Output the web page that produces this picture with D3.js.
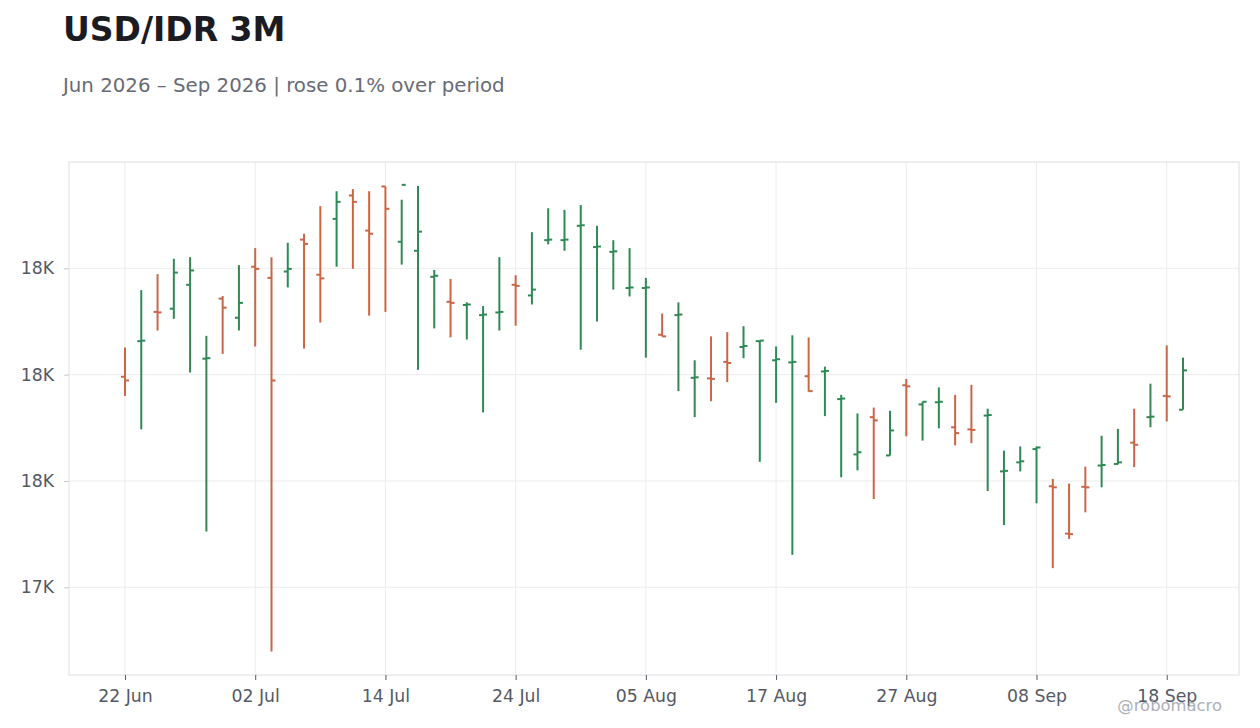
<!DOCTYPE html>
<html>
<head>
<meta charset="utf-8">
<script src="https://cdn.jsdelivr.net/npm/d3@7"></script>
<style>
  body { margin: 0; background: #fff; }
  svg { font-family: "DejaVu Sans", sans-serif; }
</style>
</head>
<body>
<div id="chart"></div>
<script>
// USD/IDR 3M daily OHLC, trading days only
const dates = [
  "2026-06-22","2026-06-23","2026-06-24","2026-06-25","2026-06-26",
  "2026-06-29","2026-06-30","2026-07-01","2026-07-02","2026-07-03",
  "2026-07-06","2026-07-07","2026-07-08","2026-07-09","2026-07-10",
  "2026-07-13","2026-07-14","2026-07-15","2026-07-16","2026-07-17",
  "2026-07-20","2026-07-21","2026-07-22","2026-07-23","2026-07-24",
  "2026-07-27","2026-07-28","2026-07-29","2026-07-30","2026-07-31",
  "2026-08-03","2026-08-04","2026-08-05","2026-08-06","2026-08-07",
  "2026-08-10","2026-08-11","2026-08-12","2026-08-13","2026-08-14",
  "2026-08-17","2026-08-18","2026-08-19","2026-08-20","2026-08-21",
  "2026-08-24","2026-08-25","2026-08-26","2026-08-27","2026-08-28",
  "2026-08-31","2026-09-01","2026-09-02","2026-09-03","2026-09-04",
  "2026-09-07","2026-09-08","2026-09-09","2026-09-10","2026-09-11",
  "2026-09-14","2026-09-15","2026-09-16","2026-09-17","2026-09-18",
  "2026-09-21"
];
const open = [
  17796,17863,17918,17924,17969,17830,17943,17907,18003,17982,
  17994,18054,17988,18093,18137,18071,18154,18050,18033,17984,
  17937,17931,17912,17917,17969,17949,18053,18053,18080,18040,
  18031,17963,17963,17875,17912,17794,17793,17824,17852,17863,
  17827,17823,17797,17806,17754,17650,17720,17648,17780,17744,
  17748,17701,17697,17723,17618,17635,17660,17590,17501,17589,
  17629,17632,17672,17720,17760,17734
];
const high = [
  17851,17959,17989,18018,18021,17873,17948,18006,18038,18021,
  18048,18065,18117,18145,18149,18145,18154,18129,18155,17997,
  17980,17936,17929,18021,17987,18068,18113,18110,18119,18080,
  18053,18038,17982,17915,17936,17827,17872,17880,17891,17864,
  17853,17874,17870,17815,17762,17727,17738,17732,17792,17749,
  17776,17762,17781,17736,17657,17665,17665,17604,17595,17627,
  17685,17698,17736,17783,17855,17832
];
const low = [
  17760,17697,17883,17905,17804,17505,17839,17883,17853,17279,
  17964,17849,17898,18003,17999,17911,17918,18007,17809,17887,
  17870,17866,17729,17883,17892,17932,18045,18033,17847,17900,
  17960,17947,17832,17872,17769,17720,17750,17786,17831,17636,
  17747,17461,17768,17722,17607,17620,17566,17648,17684,17676,
  17699,17667,17671,17581,17517,17618,17558,17436,17491,17541,
  17588,17631,17626,17701,17712,17734
];
const close = [
  17789,17864,17917,17992,17996,17831,17926,17935,17999,17789,
  17999,18046,17981,18125,18125,18065,18112,18157,18069,17986,
  17935,17932,17913,17918,17967,17960,18054,18054,18081,18041,
  18032,17964,17964,17872,17913,17795,17792,17822,17854,17864,
  17829,17824,17769,17807,17755,17654,17714,17695,17778,17749,
  17749,17690,17696,17724,17619,17637,17663,17588,17500,17588,
  17630,17635,17668,17721,17759,17808
];
const yTicks = [17400, 17600, 17800, 18000];

const width = 1260, height = 728;
const plot = { left: 69, right: 1239, top: 162, bottom: 675 };
const upColor = "#2e8a55", downColor = "#cc6546";

const parse = d3.timeParse("%Y-%m-%d");
const fmtDate = d3.timeFormat("%d %b");
const data = dates.map((d, i) => ({
  i: i, date: parse(d), o: open[i], h: high[i], l: low[i], c: close[i]
}));

const svg = d3.select("#chart").append("svg")
  .attr("width", width)
  .attr("height", height);

// title + subtitle
svg.append("text")
  .attr("x", 63).attr("y", 41)
  .style("font-size", "33px")
  .style("font-weight", "bold")
  .style("fill", "#1b1b22")
  .text("USD/IDR 3M");

let chg = (close[close.length - 1] / close[0] - 1) * 100;
svg.append("text")
  .attr("x", 63).attr("y", 92)
  .style("font-size", "19.8px")
  .style("fill", "#686b75")
  .text(`Jun 2026 – Sep 2026 | ${chg >= 0 ? "rose" : "fell"} ${Math.abs(chg).toFixed(1)}% over period`);

let x = d3.scalePoint()
  .domain(data.map(d => d.i))
  .range([plot.left, plot.right])
  .padding(3.44);

let y = d3.scaleLinear()
  .domain([17235, 18200])
  .range([plot.bottom, plot.top]);

// grid
let grid = svg.append("g");
grid.selectAll(".hg").data(yTicks).enter()
  .append("line")
  .attr("x1", plot.left).attr("x2", plot.right)
  .attr("y1", d => y(d)).attr("y2", d => y(d))
  .style("stroke", "#ececec");
let xTickIdx = data.filter(d => d.i % 8 === 0).map(d => d.i);
grid.selectAll(".vg").data(xTickIdx).enter()
  .append("line")
  .attr("x1", d => x(d)).attr("x2", d => x(d))
  .attr("y1", plot.top).attr("y2", plot.bottom)
  .style("stroke", "#ececec");

// frame
svg.append("rect")
  .attr("x", plot.left).attr("y", plot.top)
  .attr("width", plot.right - plot.left)
  .attr("height", plot.bottom - plot.top)
  .style("fill", "none")
  .style("stroke", "#dedede");

// axes
let yAxis = svg.append("g")
  .attr("transform", `translate(${plot.left},0)`)
  .call(d3.axisLeft(y).tickValues(yTicks).tickSize(5).tickPadding(10)
    .tickFormat(d => Math.round(d / 1000) + "K"));
let xAxis = svg.append("g")
  .attr("transform", `translate(0,${plot.bottom})`)
  .call(d3.axisBottom(x).tickValues(xTickIdx).tickSize(5).tickPadding(10)
    .tickFormat(i => fmtDate(data[i].date)));
[yAxis, xAxis].forEach(a => {
  a.select(".domain").remove();
  a.selectAll("text")
    .style("font-family", "DejaVu Sans, sans-serif")
    .style("font-size", "17.3px")
    .style("fill", "#555965");
});
yAxis.selectAll(".tick line").style("stroke", "#c8c8c8");
xAxis.selectAll(".tick line").style("stroke", "#555965");

// ohlc bars
let bars = svg.append("g").selectAll("g").data(data).enter()
  .append("g")
  .style("stroke", d => d.c >= d.o ? upColor : downColor)
  .style("stroke-width", 2);
bars.append("line")
  .attr("x1", d => x(d.i)).attr("x2", d => x(d.i))
  .attr("y1", d => y(d.h)).attr("y2", d => y(d.l));
bars.append("line")
  .attr("x1", d => x(d.i) - 4).attr("x2", d => x(d.i))
  .attr("y1", d => y(d.o)).attr("y2", d => y(d.o));
bars.append("line")
  .attr("x1", d => x(d.i)).attr("x2", d => x(d.i) + 4)
  .attr("y1", d => y(d.c)).attr("y2", d => y(d.c));

// watermark
svg.append("text")
  .attr("x", 1222).attr("y", 711)
  .style("text-anchor", "end")
  .style("font-size", "16.4px")
  .style("fill", "#9a9ca6")
  .style("opacity", 0.8)
  .text("@robomacro");
</script>
</body>
</html>
